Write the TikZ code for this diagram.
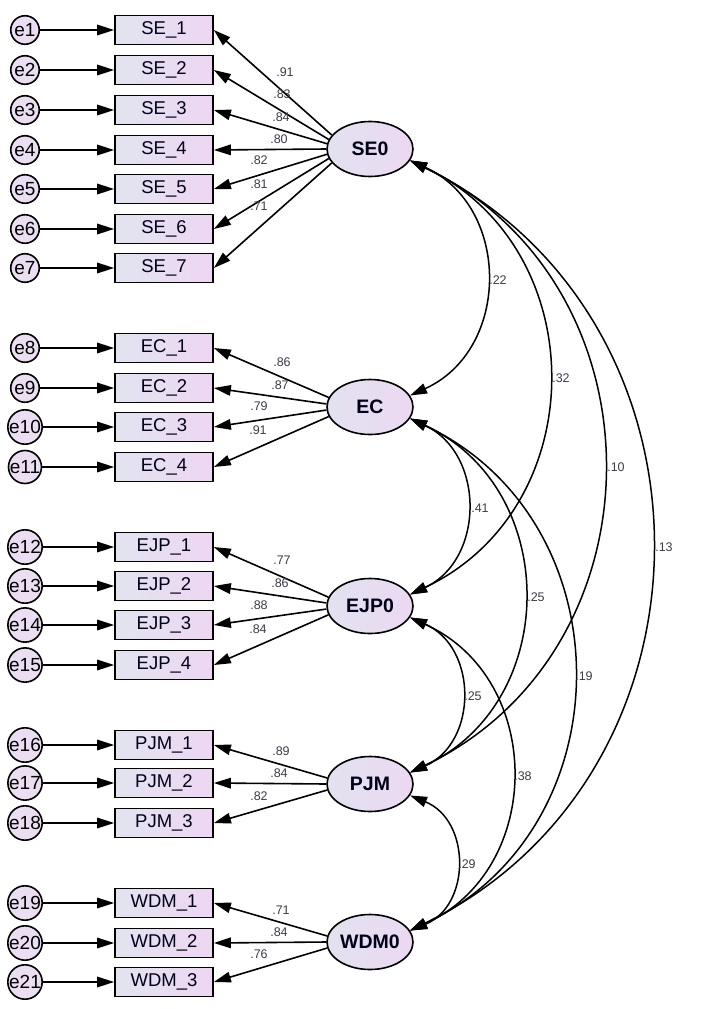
\documentclass[tikz,border=0pt]{standalone}
\usepackage{fontspec}
\setmainfont{Liberation Sans}
\usetikzlibrary{shapes.geometric,arrows.meta}
\definecolor{boxL}{RGB}{226,228,240}
\definecolor{boxR}{RGB}{238,214,242}
\definecolor{latL}{RGB}{226,226,240}
\definecolor{latR}{RGB}{236,216,242}
\definecolor{errF}{RGB}{236,222,242}
\definecolor{labC}{RGB}{60,60,75}
\begin{document}
\begin{tikzpicture}[x=1pt,y=1pt,
  >={Triangle[length=17pt,width=10.5pt]},
  obs/.style={draw=black, line width=1.7pt, minimum width=98pt, minimum height=29pt, inner sep=0pt,
    left color=boxL, right color=boxR, text=black!90!blue, font=\fontsize{18.5}{21}\selectfont},
  lat/.style={ellipse, draw=black, line width=1.6pt, minimum width=86pt, minimum height=55pt, inner sep=0pt,
    left color=latL, right color=latR, text=black!90!blue, font=\fontsize{19.5}{22}\selectfont\bfseries},
  err/.style={circle, draw=black, line width=1.6pt, minimum size=28.5pt, inner sep=0pt,
    fill=errF, font=\fontsize{19}{21}\selectfont},
  ld/.style={line width=1.6pt, ->},
  cv/.style={line width=1.5pt, <->},
  lab/.style={font=\fontsize{12.5}{14}\selectfont, text=labC, inner sep=0pt},
]
\fill[white] (0,0) rectangle (702,-1009);
\useasboundingbox (0,0) rectangle (702,-1009);

% latent variables
\node[lat] (SE0)  at (370,-149) {SE0};
\node[lat] (EC)   at (370,-407) {EC};
\node[lat] (EJP0) at (370,-606) {EJP0};
\node[lat] (PJM)  at (370,-784) {PJM};
\node[lat] (WDM0) at (370,-942) {WDM0};

% SE block
\foreach \i/\y/\a in {1/30/160,2/70/167,3/110/173,4/150/180,5/189/187,6/229/193,7/268/200} {
  \node[obs] (SE\i) at (164,-\y) {SE\_\i};
  \node[err] (e\i) at (25,-\y) {e\i};
  \draw[ld] (e\i) -- (SE\i);
  \draw[ld] (SE0.\a) -- (SE\i.east);
}
% EC block
\foreach \i/\e/\y/\a in {1/8/348/167,2/9/388/176,3/10/427/184,4/11/467/193} {
  \node[obs] (EC\i) at (164,-\y) {EC\_\i};
  \node[err] (e\e) at (25,-\y) {e\e};
  \draw[ld] (e\e) -- (EC\i);
  \draw[ld] (EC.\a) -- (EC\i.east);
}
% EJP block
\foreach \i/\e/\y/\a in {1/12/547/168,2/13/586/176,3/14/625/184,4/15/665/192} {
  \node[obs] (EJP\i) at (164,-\y) {EJP\_\i};
  \node[err] (e\e) at (25,-\y) {e\e};
  \draw[ld] (e\e) -- (EJP\i);
  \draw[ld] (EJP0.\a) -- (EJP\i.east);
}
% PJM block
\foreach \i/\e/\y/\a in {1/16/745/172,2/17/783/180,3/18/823/188} {
  \node[obs] (PJM\i) at (164,-\y) {PJM\_\i};
  \node[err] (e\e) at (25,-\y) {e\e};
  \draw[ld] (e\e) -- (PJM\i);
  \draw[ld] (PJM.\a) -- (PJM\i.east);
}
% WDM block
\foreach \i/\e/\y/\a in {1/19/903/172,2/20/943/180,3/21/982/188} {
  \node[obs] (WDM\i) at (164,-\y) {WDM\_\i};
  \node[err] (e\e) at (25,-\y) {e\e};
  \draw[ld] (e\e) -- (WDM\i);
  \draw[ld] (WDM0.\a) -- (WDM\i.east);
}

% loading labels
\node[lab] (l1) at (285,-72) {.91};
\node[lab] (l2) at (282,-94) {.83};
\node[lab] (l3) at (281,-117) {.84};
\node[lab] (l4) at (279,-139) {.80};
\node[lab] (l5) at (259,-160) {.82};
\node[lab] (l6) at (259,-184) {.81};
\node[lab] (l7) at (259,-206) {.71};
\node[lab] (l8) at (282,-362) {.86};
\node[lab] (l9) at (280,-385) {.87};
\node[lab] (l10) at (259,-406) {.79};
\node[lab] (l11) at (258,-430) {.91};
\node[lab] (l12) at (282,-560) {.77};
\node[lab] (l13) at (280,-583) {.86};
\node[lab] (l14) at (259,-605) {.88};
\node[lab] (l15) at (258,-629) {.84};
\node[lab] (l16) at (281,-751) {.89};
\node[lab] (l17) at (279,-773) {.84};
\node[lab] (l18) at (259,-796) {.82};
\node[lab] (l19) at (281,-910) {.71};
\node[lab] (l20) at (279,-932) {.84};
\node[lab] (l21) at (259,-954) {.76};

% covariances
\draw[cv] (SE0.-16) .. controls +(101,-46) and +(101,46) .. (EC.16);
\draw[cv] (SE0.-16) .. controls +(184,-87) and +(184,87) .. (EJP0.16);
\draw[cv] (SE0.-16) .. controls +(257,-123) and +(257,123) .. (PJM.16);
\draw[cv] (SE0.-16) .. controls +(321,-157) and +(321,157) .. (WDM0.16);
\draw[cv] (EC.-16) .. controls +(75,-35) and +(75,35) .. (EJP0.16);
\draw[cv] (EC.-16) .. controls +(151,-70) and +(151,70) .. (PJM.16);
\draw[cv] (EC.-16) .. controls +(217,-102) and +(217,102) .. (WDM0.16);
\draw[cv] (EJP0.-16) .. controls +(68,-30) and +(68,30) .. (PJM.16);
\draw[cv] (EJP0.-16) .. controls +(135,-61) and +(135,61) .. (WDM0.16);
\draw[cv] (PJM.-16) .. controls +(61,-25) and +(61,25) .. (WDM0.16);

% covariance labels
\node[lab] (c1) at (498,-280) {.22};
\node[lab] (c2) at (561,-378) {.32};
\node[lab] (c3) at (616,-467) {.10};
\node[lab] (c4) at (664,-547) {.13};
\node[lab] (c5) at (480,-508) {.41};
\node[lab] (c6) at (536,-597) {.25};
\node[lab] (c7) at (584,-676) {.19};
\node[lab] (c8) at (473,-696) {.25};
\node[lab] (c9) at (523,-776) {.38};
\node[lab] (c10) at (467,-864) {.29};
\end{tikzpicture}
\end{document}
